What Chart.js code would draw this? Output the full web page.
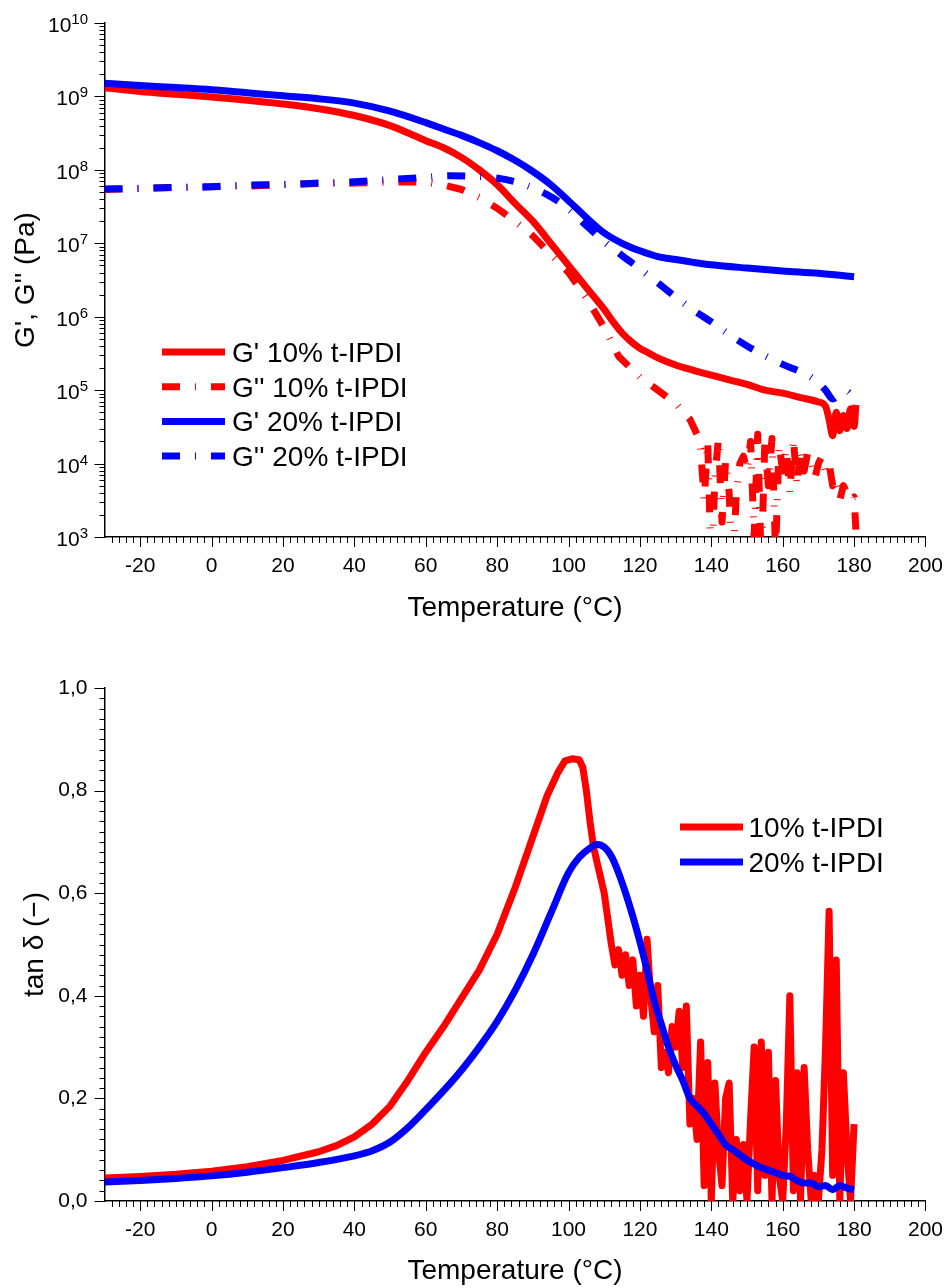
<!DOCTYPE html>
<html>
<head>
<meta charset="utf-8">
<script src="https://cdn.jsdelivr.net/npm/chart.js@4.4.1/dist/chart.umd.min.js"></script>
<style>
html, body { margin: 0; padding: 0; background: #fff; overflow: hidden; }
.box { position: absolute; left: 0; width: 950px; }
</style>
</head>
<body>
<div class="box" style="top:0;height:640px"><canvas id="modulus-chart"></canvas></div>
<div class="box" style="top:640px;height:648px"><canvas id="tand-chart"></canvas></div>
<script>
// G' 10% t-IPDI (Pa)
var tGp10 = [-30, -20, -10, 0, 10, 20, 30, 40, 50, 60, 65, 70, 75, 80, 85, 90, 95, 100, 105, 110,
	112.5, 115, 117.5, 120, 122.5, 125, 130, 135, 140, 145, 150, 155, 160, 165, 170, 172, 173, 174, 175, 176,
	177, 178, 179, 180, 180.5];
var gp10 = [1.31e9, 1.17e9, 1.07e9, 9.8e8, 8.9e8, 7.9e8, 6.8e8, 5.5e8, 4.0e8, 2.5e8, 2.0e8, 1.48e8, 1.0e8, 6.3e7, 3.5e7, 2.0e7, 1.0e7, 5.0e6, 2.5e6, 1.26e6,
	8.5e5, 6.0e5, 4.6e5, 3.7e5, 3.2e5, 2.75e5, 2.2e5, 1.86e5, 1.6e5, 1.38e5, 1.2e5, 1.0e5, 9.1e4, 7.9e4, 6.9e4, 6.0e4, 4.0e4, 2.4e4, 5.0e4, 2.8e4,
	4.5e4, 3.0e4, 5.6e4, 3.2e4, 6.3e4];

// G'' 10% t-IPDI (Pa)
var tGpp10 = [-30, -20, -10, 0, 10, 20, 30, 40, 50, 55, 60, 65, 70, 75, 80, 85, 90, 95, 100, 105,
	110, 114, 120, 125, 130, 134, 136, 137, 138, 139, 140, 141, 142, 143, 144, 145, 146, 147, 148, 149,
	150, 151, 152, 153, 154, 155, 156, 157, 158, 159, 160, 161, 162, 163, 164, 165, 166, 167, 168, 169,
	170, 171, 172, 173, 174, 175, 176, 177, 178, 179, 180, 180.5];
var gpp10 = [5.4e7, 5.6e7, 5.75e7, 5.9e7, 6.0e7, 6.3e7, 6.5e7, 6.6e7, 6.8e7, 6.9e7, 6.8e7, 6.2e7, 5.4e7, 4.2e7, 3.0e7, 2.0e7, 1.26e7, 7.1e6, 4.0e6, 1.8e6,
	7.1e5, 2.9e5, 1.5e5, 1.0e5, 6.6e4, 4.0e4, 2.5e4, 1.6e4, 3.2e3, 2.0e4, 300, 6.3e3, 2.2e4, 1.6e3, 1.1e4, 4.0e3, 300, 4.0e3, 1.0e4, 1.26e4,
	7.9e3, 2.0e4, 1.0e3, 2.5e4, 400, 2.0e4, 5.0e3, 2.2e4, 630, 1.8e4, 7.9e3, 1.6e4, 4.0e3, 2.2e4, 5.0e3, 1.6e4, 7.9e3, 1.4e4, 1.1e4, 6.3e3,
	1.0e4, 1.26e4, 7.9e3, 1.0e4, 5.0e3, 6.3e3, 3.2e3, 5.0e3, 4.0e3, 3.2e3, 3.5e3, 1.26e3];

// G' 20% t-IPDI (Pa)
var tGp20 = [-30, -20, -10, 0, 10, 20, 30, 40, 50, 60, 65, 70, 75, 80, 85, 90, 95, 100, 105, 110,
	115, 120, 125, 130, 135, 140, 150, 160, 170, 180];
var gp20 = [1.51e9, 1.41e9, 1.32e9, 1.23e9, 1.12e9, 1.02e9, 9.3e8, 8.1e8, 6.3e8, 4.4e8, 3.6e8, 2.95e8, 2.35e8, 1.82e8, 1.35e8, 9.5e7, 6.3e7, 3.8e7, 2.24e7, 1.38e7,
	1.0e7, 7.9e6, 6.6e6, 6.0e6, 5.5e6, 5.1e6, 4.6e6, 4.2e6, 3.9e6, 3.5e6];

// G'' 20% t-IPDI (Pa)
var tGpp20 = [-30, -20, -10, 0, 10, 20, 30, 40, 50, 60, 67, 75, 81, 88, 94, 100, 105, 110, 115, 120,
	125, 130, 135, 140, 145, 150, 155, 160, 165, 168, 170, 172, 174, 176, 178, 180];
var gpp20 = [5.5e7, 5.6e7, 5.75e7, 5.9e7, 6.2e7, 6.3e7, 6.6e7, 6.9e7, 7.4e7, 7.9e7, 8.3e7, 8.1e7, 7.6e7, 6.2e7, 4.6e7, 2.95e7, 1.74e7, 1.05e7, 6.8e6, 4.5e6,
	2.9e6, 1.86e6, 1.23e6, 8.5e5, 5.75e5, 4.0e5, 2.95e5, 2.24e5, 1.78e5, 1.5e5, 1.26e5, 1.0e5, 7.6e4, 8.9e4, 9.5e4, 7.4e4];

// tan delta 10% t-IPDI
var tTan10 = [-30, -20, -10, 0, 10, 20, 30, 35, 40, 45, 50, 55, 60, 65, 70, 75, 80, 85, 90, 94,
	97, 99, 101, 103, 104, 105, 106, 107, 108, 109, 110, 111, 112, 113, 114, 115, 116, 117, 118, 119,
	120, 121, 122, 123, 124, 125, 126, 127, 128, 129, 130, 131, 132, 133, 134, 135, 136, 137, 138, 139,
	140, 141, 142, 143, 144, 145, 146, 147, 148, 149, 150, 151, 152, 153, 154, 155, 156, 157, 158, 159,
	160, 161, 162, 163, 164, 165, 166, 167, 168, 169, 170, 171, 172, 173, 174, 175, 176, 177, 178, 179,
	180];
var tan10 = [0.045, 0.048, 0.052, 0.058, 0.067, 0.079, 0.096, 0.108, 0.125, 0.15, 0.185, 0.235, 0.29, 0.34, 0.395, 0.45, 0.52, 0.61, 0.71, 0.79,
	0.835, 0.858, 0.862, 0.86, 0.845, 0.8, 0.74, 0.69, 0.66, 0.63, 0.6, 0.55, 0.5, 0.46, 0.49, 0.44, 0.48, 0.42, 0.47, 0.38,
	0.44, 0.36, 0.51, 0.4, 0.33, 0.42, 0.26, 0.29, 0.25, 0.34, 0.3, 0.37, 0.26, 0.38, 0.15, 0.2, 0.12, 0.31, 0.03, 0.27,
	0.0, 0.23, 0.1, 0.03, 0.2, 0.23, 0.0, 0.12, 0.02, 0.11, 0.0, 0.16, 0.3, 0.02, 0.31, 0.05, 0.29, 0.0, 0.235, 0.05,
	0.0, 0.15, 0.4, 0.02, 0.25, 0.0, 0.26, 0.1, 0.0, 0.05, 0.0, 0.1, 0.3, 0.565, 0.05, 0.47, 0.0, 0.25, 0.1, 0.0,
	0.15];

// tan delta 20% t-IPDI
var tTan20 = [-30, -20, -10, 0, 10, 20, 30, 40, 45, 50, 55, 60, 65, 70, 75, 80, 85, 90, 95, 100,
	103, 106, 108, 110, 112, 114, 116, 118, 120, 122, 124, 126, 128, 130, 132, 134, 136, 138, 140, 142,
	144, 146, 148, 150, 152, 154, 156, 158, 160, 162, 164, 166, 168, 170, 172, 174, 176, 178, 180];
var tan20 = [0.037, 0.04, 0.044, 0.049, 0.056, 0.065, 0.075, 0.088, 0.098, 0.115, 0.143, 0.178, 0.215, 0.255, 0.3, 0.35, 0.41, 0.48, 0.56, 0.64,
	0.67, 0.688, 0.695, 0.69, 0.672, 0.64, 0.6, 0.555, 0.505, 0.45, 0.39, 0.345, 0.3, 0.265, 0.235, 0.2, 0.185, 0.17, 0.15, 0.13,
	0.11, 0.1, 0.09, 0.08, 0.072, 0.065, 0.06, 0.055, 0.05, 0.048, 0.04, 0.035, 0.035, 0.028, 0.03, 0.022, 0.03, 0.025, 0.022];

var RED = '#ff0000', BLUE = '#0000ff';
var FONT = "'Liberation Sans', Arial, Helvetica, sans-serif";
Chart.defaults.font.family = FONT;
Chart.defaults.color = '#000';

function series(label, ts, vs, color, dashed, order, smooth) {
	return {
		label: label,
		data: ts.map(function (t, i) { return { x: t, y: vs[i] }; }),
		borderColor: color,
		borderWidth: 7,
		borderDash: dashed ? [18, 15, 1, 15] : [],
		borderJoinStyle: 'round',
		cubicInterpolationMode: smooth ? 'monotone' : 'default',
		tension: 0,
		pointRadius: 0,
		fill: false,
		clip: 0,
		order: order
	};
}

// tick mark positions along the axes (minor/major)
var xTicks = [];
for (var v = -28; v <= 200; v += 2) xTicks.push({ v: v, major: v % 20 === 0 });
var logTicks = [];
for (var n = 3; n < 10; n++) {
	for (var k = 1; k < 10; k++) logTicks.push({ v: k * Math.pow(10, n), major: k === 1 });
}
logTicks.push({ v: 1e10, major: true });
var tanTicks = [];
for (var i = 0; i <= 50; i++) tanTicks.push({ v: i * 0.02, major: i % 10 === 0 });

var axisDecor = {
	id: 'axisDecor',
	afterDraw: function (chart, args, o) {
		var ctx = chart.ctx, xs = chart.scales.x, ys = chart.scales.y, area = chart.chartArea;
		ctx.save();
		ctx.strokeStyle = '#000';
		ctx.lineWidth = 1;
		ctx.beginPath();
		o.xTicks.forEach(function (t) {
			var px = Math.round(xs.getPixelForValue(t.v)) + 0.5;
			ctx.moveTo(px, area.bottom);
			ctx.lineTo(px, area.bottom + (t.major ? 10 : 6));
		});
		o.yTicks.forEach(function (t) {
			var py = Math.round(ys.getPixelForValue(t.v)) + 0.5;
			ctx.moveTo(area.left, py);
			ctx.lineTo(area.left - (t.major ? 10 : 5), py);
		});
		ctx.stroke();

		// 10^n labels on the log axis
		if (o.powers) {
			ctx.fillStyle = '#000';
			ctx.textBaseline = 'alphabetic';
			for (var n = o.powers[0]; n <= o.powers[1]; n++) {
				var py = ys.getPixelForValue(Math.pow(10, n));
				ctx.font = '21px ' + FONT;
				var w1 = ctx.measureText('10').width;
				ctx.font = '15px ' + FONT;
				var w2 = ctx.measureText(String(n)).width;
				var x0 = 88 - w1 - w2;
				ctx.font = '21px ' + FONT;
				ctx.fillText('10', x0, py + 9);
				ctx.font = '15px ' + FONT;
				ctx.fillText(String(n), x0 + w1, py + 1);
			}
		}

		// legend
		var lg = o.legend;
		ctx.font = '28px ' + FONT;
		lg.items.forEach(function (idx, row) {
			var ds = chart.data.datasets[idx];
			var y = lg.y + row * lg.gap;
			ctx.strokeStyle = ds.borderColor;
			ctx.lineWidth = ds.borderWidth;
			ctx.setLineDash(ds.borderDash || []);
			ctx.beginPath();
			ctx.moveTo(lg.x, y);
			ctx.lineTo(lg.x + lg.len, y);
			ctx.stroke();
			ctx.setLineDash([]);
			ctx.fillStyle = '#000';
			ctx.fillText(ds.label, lg.textX, y + 10);
		});
		ctx.restore();
	}
};

function xAxis(height, titlePad) {
	return {
		type: 'linear',
		min: -30,
		max: 200,
		afterFit: function (s) { s.height = height; },
		grid: { display: false, drawTicks: true, tickLength: 10 },
		border: { display: true, color: '#000', width: 1.5 },
		ticks: { stepSize: 20, includeBounds: false, autoSkip: false, maxRotation: 0, padding: 7, color: '#000', font: { size: 21 } },
		title: { display: true, text: 'Temperature (°C)', color: '#000', font: { size: 28 }, padding: { top: 0, bottom: titlePad } }
	};
}

new Chart(document.getElementById('modulus-chart'), {
	type: 'line',
	data: {
		datasets: [
			series("G' 10% t-IPDI", tGp10, gp10, RED, false, 4, true),
			series("G'' 10% t-IPDI", tGpp10, gpp10, RED, true, 3, false),
			series("G' 20% t-IPDI", tGp20, gp20, BLUE, false, 2, true),
			series("G'' 20% t-IPDI", tGpp20, gpp20, BLUE, true, 1, true)
		]
	},
	options: {
		responsive: true,
		maintainAspectRatio: false,
		animation: false,
		layout: { padding: { left: 0, right: 22, top: 23, bottom: 0 } },
		plugins: {
			legend: { display: false },
			tooltip: { enabled: false },
			axisDecor: {
				xTicks: xTicks,
				yTicks: logTicks,
				powers: [3, 10],
				legend: { x: 162, y: 352, gap: 34.7, len: 63, textX: 232, items: [0, 1, 2, 3] }
			}
		},
		scales: {
			x: xAxis(103, 15),
			y: {
				type: 'logarithmic',
				min: 1e3,
				max: 1e10,
				afterFit: function (s) { s.width = 104.5; },
				grid: { display: false },
				border: { display: true, color: '#000', width: 1.5 },
				ticks: { display: false },
				title: { display: true, text: "G', G'' (Pa)", color: '#000', font: { size: 28 }, padding: { top: 9, bottom: 0 } }
			}
		}
	},
	plugins: [axisDecor]
});

new Chart(document.getElementById('tand-chart'), {
	type: 'line',
	data: {
		datasets: [
			series('10% t-IPDI', tTan10, tan10, RED, false, 2, false),
			series('20% t-IPDI', tTan20, tan20, BLUE, false, 1, true)
		]
	},
	options: {
		responsive: true,
		maintainAspectRatio: false,
		animation: false,
		layout: { padding: { left: 0, right: 22, top: 48, bottom: 0 } },
		plugins: {
			legend: { display: false },
			tooltip: { enabled: false },
			axisDecor: {
				xTicks: xTicks,
				yTicks: tanTicks,
				legend: { x: 680, y: 187, gap: 35, len: 63, textX: 748.5, items: [0, 1] }
			}
		},
		scales: {
			x: xAxis(87, 0),
			y: {
				type: 'linear',
				min: 0,
				max: 1,
				afterFit: function (s) { s.width = 104.5; },
				grid: { display: false, drawTicks: true, tickLength: 10 },
				border: { display: true, color: '#000', width: 1.5 },
				ticks: {
					stepSize: 0.2,
					padding: 7,
					color: '#000',
					font: { size: 21 },
					callback: function (value) { return value.toFixed(1).replace('.', ','); }
				},
				title: { display: true, text: 'tan δ (−)', color: '#000', font: { size: 28 }, padding: { top: 18, bottom: 0 } }
			}
		}
	},
	plugins: [axisDecor]
});
</script>
</body>
</html>
